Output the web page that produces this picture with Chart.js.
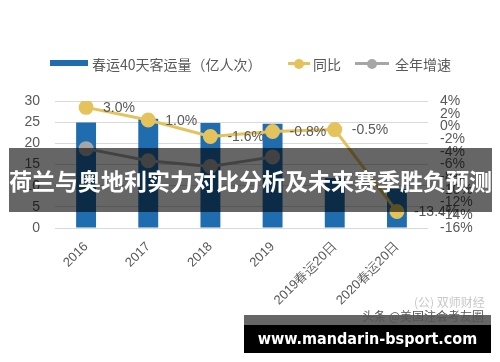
<!DOCTYPE html>
<html>
<head>
<meta charset="utf-8">
<script src="https://cdn.jsdelivr.net/npm/chart.js@4.4.1/dist/chart.umd.min.js"></script>
<style>
  body { margin: 0; background: #fff; }
  #wrap { position: relative; width: 500px; height: 362px; overflow: hidden; font-family: "Noto Sans CJK SC", sans-serif; }
  #myChart { position: absolute; left: 0; top: 0; }
  .lg { position: absolute; font-size: 14px; color: #595959; line-height: 16px; top: 56px; white-space: nowrap; }
  .mk { position: absolute; }
  .dot { position: absolute; width: 10px; height: 10px; border-radius: 50%; top: 59px; }
  #banner { position: absolute; left: 9px; top: 148px; width: 483px; height: 64px; background: rgba(0,0,0,0.6);
            color: #fff; font-weight: bold; font-size: 23px; line-height: 64px; text-align: center; white-space: nowrap; }
  #wm1 { position: absolute; left: 414px; top: 293px; font-size: 12px; color: #c8c8c8; white-space: nowrap; }
  #wm2 { position: absolute; left: 362px; top: 307px; font-size: 12px; color: #555; white-space: nowrap; z-index: 2; }
  #site { position: absolute; left: 244px; top: 315px; width: 247px; height: 38px; background: #000;
          border-top: 10px solid #666; box-sizing: border-box; color: #fff; font-family: "DejaVu Sans Condensed", "DejaVu Sans", sans-serif;
          font-weight: bold; font-size: 16px; line-height: 28px; text-align: center; white-space: nowrap; }
</style>
</head>
<body>
<div id="wrap">
  <canvas id="myChart" width="500" height="362"></canvas>

  <div class="mk" style="left:50px;top:60px;width:38px;height:6px;background:#1f6cae"></div>
  <div class="lg" style="left:92px">春运40天客运量（亿人次）</div>
  <div class="mk" style="left:288px;top:62px;width:22px;height:3px;background:#e5c35c"></div>
  <div class="dot" style="left:294px;background:#e5c35c"></div>
  <div class="lg" style="left:313px">同比</div>
  <div class="mk" style="left:355px;top:62px;width:34px;height:3px;background:#a6a6a6"></div>
  <div class="dot" style="left:367px;background:#a6a6a6"></div>
  <div class="lg" style="left:395px">全年增速</div>

  <div id="banner">荷兰与奥地利实力对比分析及未来赛季胜负预测</div>
  <div id="wm1">(公) 双师财经</div>
  <div id="wm2">头条 @美国注会考友圈</div>
  <div id="site">www.mandarin-bsport.com</div>
</div>
<script>
const categories = ['2016', '2017', '2018', '2019', '2019春运20日', '2020春运20日'];
const passengers = [24.9, 25.8, 24.8, 24.6, 11.8, 9.2];
const yoy = [3.0, 1.0, -1.6, -0.8, -0.5, -13.4];
const annualGrowth = [-3.5, -5.4, -6.3, -4.8, null, null];
const leftTicks = [0, 30, 5];
const rightTicks = [-16, 4, 2];

// draw the yoy % labels to the right of each point
const yoyLabels = {
  id: 'yoyLabels',
  afterDatasetsDraw(chart) {
    const c = chart.ctx;
    const meta = chart.getDatasetMeta(1);
    c.save();
    c.font = '14px "Liberation Sans", Arial, sans-serif';
    c.fillStyle = '#595959';
    c.textAlign = 'left';
    c.textBaseline = 'middle';
    meta.data.forEach((pt, i) => {
      c.fillText(yoy[i].toFixed(1) + '%', pt.x + 17, pt.y + 1);
    });
    c.restore();
  }
};

const ctx = document.getElementById('myChart');

new Chart(ctx, {
  type: 'bar',
  data: {
    labels: categories,
    datasets: [{
      type: 'bar',
      label: '春运40天客运量（亿人次）',
      data: passengers,
      backgroundColor: '#1f6cae',
      barPercentage: 0.32,
      categoryPercentage: 1,
      yAxisID: 'y',
      order: 3
    },
    {
      type: 'line',
      label: '同比',
      data: yoy,
      borderColor: '#e5c35c',
      backgroundColor: '#e5c35c',
      borderWidth: 3,
      pointRadius: 6,
      pointHoverRadius: 6,
      tension: 0,
      yAxisID: 'y1',
      order: 1
    },
    {
      type: 'line',
      label: '全年增速',
      data: annualGrowth,
      borderColor: '#a6a6a6',
      backgroundColor: '#a6a6a6',
      borderWidth: 3,
      pointRadius: 6,
      pointHoverRadius: 6,
      tension: 0,
      yAxisID: 'y1',
      order: 2
    }]
  },
  options: {
    responsive: false,
    animation: false,
    layout: { padding: { left: 25, right: 22, top: 101, bottom: 54 } },
    scales: {
      x: {
        grid: { display: false },
        border: { display: false },
        ticks: {
          minRotation: 45,
          maxRotation: 45,
          color: '#595959',
          font: { size: 13, family: '"Liberation Sans", Arial, sans-serif' }
        },
        afterFit(scale) { scale.height = 80; }
      },
      y: {
        position: 'left',
        min: leftTicks[0],
        max: leftTicks[1],
        ticks: {
          stepSize: leftTicks[2],
          padding: 15,
          color: '#595959',
          font: { size: 14, family: '"Liberation Sans", Arial, sans-serif' }
        },
        grid: { color: '#d9d9d9', drawTicks: false },
        border: { display: false },
        afterFit(scale) { scale.width = 30; }
      },
      y1: {
        position: 'right',
        min: rightTicks[0],
        max: rightTicks[1],
        ticks: {
          stepSize: rightTicks[2],
          autoSkip: false,
          padding: 12,
          color: '#595959',
          font: { size: 14, family: '"Liberation Sans", Arial, sans-serif' },
          callback: v => v + '%'
        },
        grid: { display: false, drawTicks: false },
        border: { display: false },
        afterFit(scale) { scale.width = 50; }
      }
    },
    plugins: {
      legend: { display: false },
      tooltip: { enabled: false }
    }
  },
  plugins: [yoyLabels]
});
</script>
</body>
</html>
